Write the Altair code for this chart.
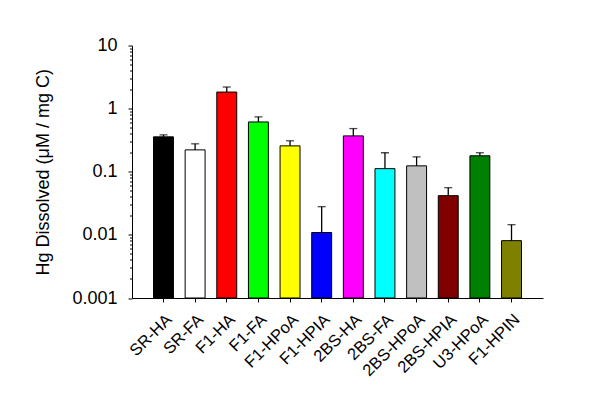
import altair as alt
import pandas as pd

categories = ["SR-HA", "SR-FA", "F1-HA", "F1-FA", "F1-HPoA", "F1-HPIA",
              "2BS-HA", "2BS-FA", "2BS-HPoA", "2BS-HPIA", "U3-HPoA", "F1-HPIN"]
values = [0.357, 0.222, 1.83, 0.615, 0.257, 0.0109, 0.37, 0.112, 0.124, 0.0418, 0.179, 0.0081]
upper = [0.384, 0.277, 2.20, 0.74, 0.309, 0.028, 0.483, 0.20, 0.172, 0.0559, 0.20, 0.0145]
colors = ["#000000", "#FFFFFF", "#FF0000", "#00FF00", "#FFFF00", "#0000FF",
          "#FF00FF", "#00FFFF", "#C0C0C0", "#800000", "#008000", "#808000"]

major = [0.001, 0.01, 0.1, 1, 10]
tick_values = []
for d in [0.001, 0.01, 0.1, 1]:
    for m in range(1, 10):
        tick_values.append(round(d * m, 6))
tick_values.append(10)

df = pd.DataFrame({"cat": categories, "value": values, "upper": upper, "color": colors})

FONT = "Liberation Sans"

x_enc = alt.X("cat:N", sort=categories,
              scale=alt.Scale(paddingInner=0.37, paddingOuter=0.68),
              axis=alt.Axis(title=None, labelAngle=-45, labelAlign="right",
                            labelBaseline="top", labelFontSize=16.5, labelPadding=9,
                            labelFont=FONT, labelColor="black", tickSize=4,
                            tickColor="black", domainColor="black", labelLimit=200))

y_scale = alt.Scale(type="log", domain=[0.001, 10], nice=False)
decade_test = "abs(log(datum.value)/LN10 - round(log(datum.value)/LN10)) < 0.000001"
y_enc = alt.Y("value:Q", scale=y_scale,
              axis=alt.Axis(title="Hg Dissolved (\u03bcM / mg C)", values=tick_values,
                            labelExpr=f"({decade_test}) ? format(datum.value, '~g') : ''",
                            tickSize={"condition": {"test": decade_test, "value": 4}, "value": 2.5},
                            labelFontSize=18, titleFontSize=18, titleFontWeight="normal",
                            labelFont=FONT, titleFont=FONT, labelColor="black",
                            titleColor="black", tickColor="black", domainColor="black",
                            labelPadding=11, titlePadding=19, grid=False, labelOverlap=False))

bars = alt.Chart(df).mark_bar(stroke="black", strokeWidth=1).encode(
    x=x_enc,
    y=y_enc,
    y2=alt.datum(0.001),
    fill=alt.Fill("color:N", scale=None),
)

rules = alt.Chart(df).mark_rule(color="black", strokeWidth=1.3).encode(
    x=alt.X("cat:N", sort=categories),
    y=alt.Y("value:Q"),
    y2=alt.Y2("upper:Q"),
)

caps = alt.Chart(df).mark_tick(color="black", thickness=1.3, size=8).encode(
    x=alt.X("cat:N", sort=categories),
    y=alt.Y("upper:Q"),
)

chart = alt.layer(bars, rules, caps).properties(
    width=411, height=252.5,
    autosize=alt.AutoSizeParams(type="none"),
    padding={"left": 124, "top": 37.5, "right": 49, "bottom": 95},
    background="white",
).configure_view(stroke=None).configure_axis(domainWidth=1, tickWidth=1)

chart.save("out.html", embed_options={"renderer": "svg", "actions": False})
